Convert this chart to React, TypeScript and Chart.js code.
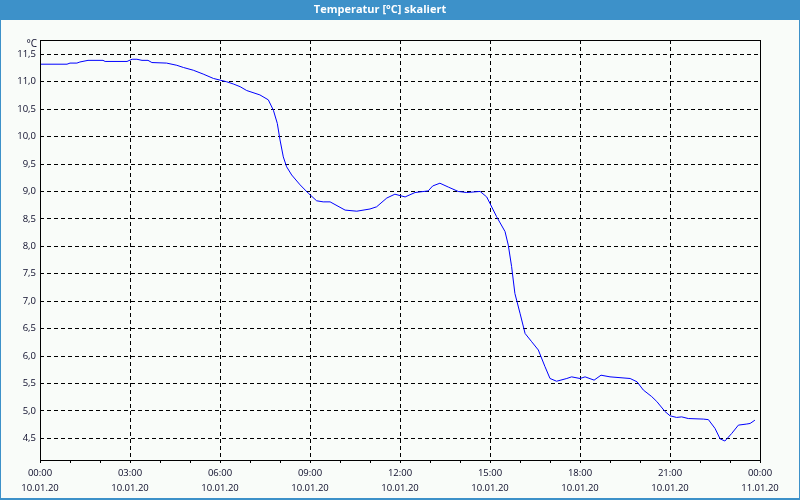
import React, { useEffect, useRef } from "react";
import { Chart, registerables } from "chart.js";

Chart.register(...registerables);

const chartTitle = "Temperatur [°C] skaliert";
const unitLabel = "°C";

// hours since 10.01.20 00:00
const hours = [0, 0.9, 1.0, 1.23, 1.33, 1.6, 2.1, 2.17, 2.9, 3.07, 3.23, 3.4, 3.6, 3.73, 4.22, 4.56, 4.78, 5.11, 5.44, 5.78, 6.0, 6.22, 6.44, 6.67, 6.89, 7.33, 7.61, 7.78, 7.91, 8.0, 8.11, 8.22, 8.39, 8.67, 8.94, 9.22, 9.44, 9.67, 10.17, 10.56, 11.0, 11.22, 11.56, 11.83, 12.17, 12.5, 12.94, 13.09, 13.33, 13.61, 13.94, 14.22, 14.67, 14.89, 15.0, 15.22, 15.5, 15.61, 15.72, 15.83, 16.0, 16.17, 16.39, 16.61, 16.83, 17.0, 17.22, 17.56, 17.72, 18.0, 18.17, 18.47, 18.7, 19.0, 19.67, 19.9, 20.11, 20.39, 20.56, 20.83, 21.0, 21.22, 21.39, 21.61, 22.11, 22.28, 22.5, 22.67, 22.83, 23.06, 23.28, 23.56, 23.67, 23.83];

const temps = [11.32, 11.32, 11.34, 11.34, 11.36, 11.39, 11.39, 11.37, 11.37, 11.41, 11.41, 11.39, 11.39, 11.35, 11.34, 11.30, 11.26, 11.21, 11.14, 11.06, 11.03, 11.00, 10.96, 10.91, 10.84, 10.76, 10.67, 10.48, 10.24, 9.94, 9.63, 9.45, 9.30, 9.12, 8.97, 8.83, 8.81, 8.81, 8.66, 8.64, 8.68, 8.72, 8.88, 8.95, 8.90, 8.98, 9.01, 9.10, 9.15, 9.08, 9.00, 8.98, 9.00, 8.90, 8.78, 8.54, 8.27, 8.02, 7.63, 7.14, 6.78, 6.41, 6.26, 6.11, 5.81, 5.59, 5.54, 5.59, 5.62, 5.59, 5.62, 5.56, 5.65, 5.62, 5.59, 5.53, 5.38, 5.26, 5.17, 4.99, 4.91, 4.88, 4.89, 4.86, 4.85, 4.84, 4.68, 4.49, 4.45, 4.59, 4.74, 4.76, 4.77, 4.83];

const xTickTimes = ["00:00", "03:00", "06:00", "09:00", "12:00", "15:00", "18:00", "21:00", "00:00"];
const xTickDates = ["10.01.20", "10.01.20", "10.01.20", "10.01.20", "10.01.20", "10.01.20", "10.01.20", "10.01.20", "11.01.20"];
const yTickValues = [4.5, 5.0, 5.5, 6.0, 6.5, 7.0, 7.5, 8.0, 8.5, 9.0, 9.5, 10.0, 10.5, 11.0, 11.5];

const FONT = "'Open Sans', 'Noto Sans', sans-serif";
const TEXT = "#0a0a28";

const framePlugin = {
  id: "frame",
  beforeDraw(chart: any) {
    const ctx = chart.ctx;
    const w = chart.width;
    const h = chart.height;
    ctx.save();
    ctx.fillStyle = "#f9fcf9";
    ctx.fillRect(0, 0, w, h);
    ctx.fillStyle = "#3d91c9";
    ctx.fillRect(0, 0, w, 20);
    ctx.fillRect(0, 0, 1, h);
    ctx.fillRect(w - 1, 0, 1, h);
    ctx.fillRect(0, h - 2, w, 2);
    ctx.restore();
  },
  afterDraw(chart: any) {
    const ctx = chart.ctx;
    const a = chart.chartArea;
    ctx.save();
    ctx.strokeStyle = "#000";
    ctx.lineWidth = 1;
    ctx.setLineDash([]);
    ctx.strokeRect(Math.round(a.left) + 0.5, Math.round(a.top) + 0.5, Math.round(a.right - a.left), Math.round(a.bottom - a.top));
    ctx.fillStyle = TEXT;
    ctx.font = `10px ${FONT}`;
    ctx.textAlign = "right";
    ctx.textBaseline = "middle";
    ctx.fillText(unitLabel, a.left - 3, a.top + 4);
    ctx.restore();
  },
};

export default function App() {
  const ref = useRef<HTMLCanvasElement | null>(null);
  useEffect(() => {
    document.body.style.margin = "0";
    const canvas = ref.current!;
    const points = hours.map((h, i) => ({ x: h, y: temps[i] }));
    const chart = new Chart(canvas, {
      type: "line",
      data: {
        datasets: [
          {
            data: points,
            borderColor: "#0000ff",
            borderWidth: 1,
            pointRadius: 0,
            tension: 0,
            fill: false,
          },
        ],
      },
      options: {
        animation: false,
        responsive: false,
        devicePixelRatio: 1,
        layout: { padding: { left: 0, right: 40, top: 0, bottom: 0 } },
        plugins: {
          legend: { display: false },
          tooltip: { enabled: false },
          title: {
            display: true,
            text: chartTitle,
            color: "#ffffff",
            font: { family: FONT, size: 11, weight: "bold" },
            padding: { top: 3, bottom: 23.8 },
          },
        },
        scales: {
          x: {
            type: "linear",
            min: 0,
            max: 24,
            afterFit(scale: any) {
              scale.height = 40;
            },
            afterBuildTicks(scale: any) {
              const t = [];
              for (let i = 0; i <= 24; i++) t.push({ value: i });
              scale.ticks = t;
            },
            ticks: {
              autoSkip: false,
              maxRotation: 0,
              padding: 2.5,
              color: TEXT,
              font: { family: FONT, size: 9.5, lineHeight: 1.63 },
              callback: (v: any) => {
                const n = Number(v);
                if (n % 3 !== 0) return "";
                const k = n / 3;
                return [xTickTimes[k], xTickDates[k]];
              },
            },
            grid: {
              color: (c: any) => (c.tick && c.tick.value % 3 === 0 ? "#000" : "rgba(0,0,0,0)"),
              tickColor: "#000",
              tickLength: 3,
              tickBorderDash: [],
              lineWidth: 1,
            },
            border: { display: false, dash: [4, 3] },
          },
          y: {
            type: "linear",
            min: 4.104,
            max: 11.761,
            afterFit(scale: any) {
              scale.width = 40;
            },
            afterBuildTicks(scale: any) {
              scale.ticks = yTickValues.map((v) => ({ value: v }));
            },
            ticks: {
              padding: 4,
              color: TEXT,
              font: { family: FONT, size: 9.5 },
              callback: (v: any) => Number(v).toFixed(1).replace(".", ","),
            },
            grid: {
              color: "#000",
              drawTicks: false,
              lineWidth: 1,
            },
            border: { display: false, dash: [4, 3] },
          },
        },
      },
      plugins: [framePlugin],
    } as any);
    return () => chart.destroy();
  }, []);
  return (
    <div style={{ position: "fixed", left: 0, top: 0, width: 800, height: 500 }}>
      <canvas ref={ref} width={800} height={500} style={{ width: 800, height: 500, display: "block" }} />
    </div>
  );
}
